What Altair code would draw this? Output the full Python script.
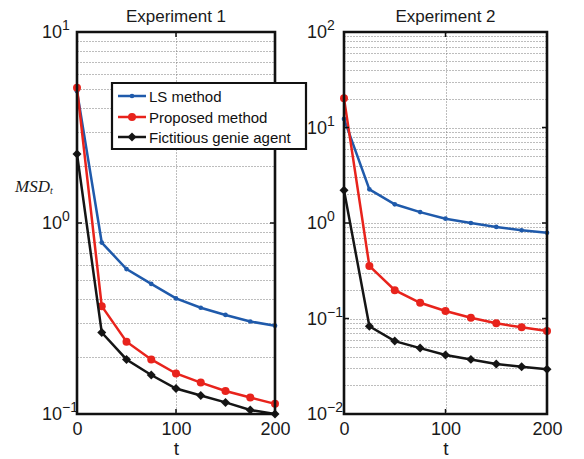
import altair as alt
import pandas as pd

# ---------------- data ----------------
t = [0, 25, 50, 75, 100, 125, 150, 175, 200]
series_names = ["LS method", "Proposed method", "Fictitious genie agent"]
series_colors = ["#1f5aab", "#e8231c", "#151515"]
series_shapes = ["circle", "circle", "diamond"]
series_sizes = [22, 64, 80]

exp1_ls = [4.9, 0.79, 0.574, 0.48, 0.403, 0.36, 0.33, 0.305, 0.29]
exp1_prop = [5.1, 0.367, 0.239, 0.193, 0.163, 0.146, 0.132, 0.122, 0.113]
exp1_genie = [2.3, 0.267, 0.193, 0.16, 0.136, 0.125, 0.115, 0.105, 0.1]

exp2_ls = [12.3, 2.25, 1.57, 1.30, 1.11, 1.0, 0.91, 0.84, 0.79]
exp2_prop = [20.2, 0.355, 0.198, 0.146, 0.12, 0.102, 0.089, 0.081, 0.074]
exp2_genie = [2.2, 0.083, 0.058, 0.049, 0.0415, 0.0373, 0.0334, 0.0313, 0.0294]

x_ticks = [0, 100, 200]
exp1_decades = [0.1, 1, 10]
exp1_exps = ["\u22121", "0", "1"]
exp2_decades = [0.01, 0.1, 1, 10, 100]
exp2_exps = ["\u22122", "\u22121", "0", "1", "2"]
titles = ["Experiment 1", "Experiment 2"]

FONT = "Liberation Sans"
GRID = "#7a7a7a"
H = 382


def minor_values(decades):
    vals = []
    for d in decades[:-1]:
        vals += [d * m for m in range(1, 10)]
    vals.append(decades[-1])
    return vals


def panel(vals, decades, exps, width, title, label_x, with_legend, with_ylabel):
    xenc = alt.X(
        "t:Q",
        scale=alt.Scale(domain=[0, 200], nice=False, zero=False),
        axis=alt.Axis(values=x_ticks, grid=True, gridDash=[1, 2], gridColor=GRID,
                      gridWidth=1, ticks=False, domain=False, labelFontSize=18,
                      labelFont=FONT, labelColor="#1a1a1a", labelPadding=6,
                      labelFlush=False, title="t", titleFont=FONT, titleFontSize=19,
                      titleFontWeight="normal", titleColor="#1a1a1a", titlePadding=1),
    )
    yenc = alt.Y(
        "value:Q",
        scale=alt.Scale(type="log", domain=[decades[0], decades[-1]], nice=False),
        axis=alt.Axis(values=minor_values(decades), grid=True, gridDash=[1, 2],
                      gridColor=GRID, gridWidth=1, labels=False, ticks=False,
                      domain=False, title=None),
    )
    d0 = pd.DataFrame({"k": [0]})
    layers = []
    for name, color, shape, size, v in zip(series_names, series_colors, series_shapes,
                                            series_sizes, vals):
        df = pd.DataFrame({"t": t, "value": v})
        layers.append(alt.Chart(df).mark_line(color=color, strokeWidth=2.5, clip=False)
                      .encode(x=xenc, y=yenc))
        layers.append(alt.Chart(df).mark_point(color=color, fill=color, filled=True,
                                               shape=shape, size=size, opacity=1,
                                               clip=False)
                      .encode(x=xenc, y=yenc))

    # inner major ticks
    tdf = pd.DataFrame({"value": decades})
    layers.append(alt.Chart(tdf).mark_rule(color="#111", strokeWidth=1.5)
                  .encode(y=yenc, x=alt.value(0), x2=alt.value(5)))
    layers.append(alt.Chart(tdf).mark_rule(color="#111", strokeWidth=1.5)
                  .encode(y=yenc, x=alt.value(width - 5), x2=alt.value(width)))
    xdf = pd.DataFrame({"t": [x_ticks[1]]})
    layers.append(alt.Chart(xdf).mark_rule(color="#111", strokeWidth=1.5)
                  .encode(x=xenc, y=alt.value(0), y2=alt.value(5)))
    layers.append(alt.Chart(xdf).mark_rule(color="#111", strokeWidth=1.5)
                  .encode(x=xenc, y=alt.value(H - 5), y2=alt.value(H)))

    # y tick labels 10^k
    ldf = pd.DataFrame({"value": decades, "base": ["10"] * len(decades), "exp": exps})
    layers.append(alt.Chart(ldf).mark_text(align="right", baseline="middle", fontSize=18,
                                           font=FONT, color="#1a1a1a", dy=1)
                  .encode(y=yenc, x=alt.value(label_x), text="base:N"))
    layers.append(alt.Chart(ldf).mark_text(align="left", baseline="middle", fontSize=14,
                                           font=FONT, color="#1a1a1a", dy=-6)
                  .encode(y=yenc, x=alt.value(label_x), text="exp:N"))

    # panel title
    layers.append(alt.Chart(d0).mark_text(align="center", baseline="alphabetic",
                                          fontSize=17, font=FONT, color="#1a1a1a",
                                          text=title)
                  .encode(x=alt.value(width / 2), y=alt.value(-10)))

    if with_ylabel:
        layers.append(alt.Chart(d0).mark_text(align="left", baseline="alphabetic",
                                              fontSize=17, font="Liberation Serif",
                                              fontStyle="italic", color="#1a1a1a",
                                              text="MSD")
                      .encode(x=alt.value(-62), y=alt.value(160)))
        layers.append(alt.Chart(d0).mark_text(align="left", baseline="alphabetic",
                                              fontSize=10, font="Liberation Serif",
                                              fontStyle="italic", color="#1a1a1a",
                                              text="t")
                      .encode(x=alt.value(-27), y=alt.value(162)))

    # frame
    layers.append(alt.Chart(d0).mark_rect(fill=None, filled=False, stroke="#111",
                                          strokeWidth=2.6)
                  .encode(x=alt.value(0), x2=alt.value(width), y=alt.value(0),
                          y2=alt.value(H)))

    if with_legend:
        layers.append(alt.Chart(d0).mark_rect(fill="white", stroke="#111", strokeWidth=2.2)
                      .encode(x=alt.value(35), x2=alt.value(229), y=alt.value(51),
                              y2=alt.value(117)))
        rows = [64, 85, 105]
        for name, color, shape, size, yy in zip(series_names, series_colors,
                                                 series_shapes, series_sizes, rows):
            layers.append(alt.Chart(d0).mark_rule(color=color, strokeWidth=2.5)
                          .encode(x=alt.value(41), x2=alt.value(69), y=alt.value(yy),
                                  y2=alt.value(yy)))
            layers.append(alt.Chart(d0).mark_point(color=color, fill=color, filled=True,
                                                   shape=shape, size=size, opacity=1)
                          .encode(x=alt.value(55), y=alt.value(yy)))
            layers.append(alt.Chart(d0).mark_text(align="left", baseline="middle",
                                                  fontSize=15, font=FONT,
                                                  color="#111", text=name)
                          .encode(x=alt.value(72), y=alt.value(yy + 1)))

    return alt.layer(*layers).properties(width=width, height=H)


p1 = panel([exp1_ls, exp1_prop, exp1_genie], exp1_decades, exp1_exps, 198,
           titles[0], -15, True, True)
p2 = panel([exp2_ls, exp2_prop, exp2_genie], exp2_decades, exp2_exps, 203,
           titles[1], -17, False, False)

chart = alt.HConcatChart(hconcat=[p1, p2], spacing=69, bounds="flush").properties(
    padding={"left": 7, "top": 0, "right": 5, "bottom": 0},
    background="white",
).configure_view(stroke=None)

chart.save("out.html", embed_options={"renderer": "svg", "actions": False})
